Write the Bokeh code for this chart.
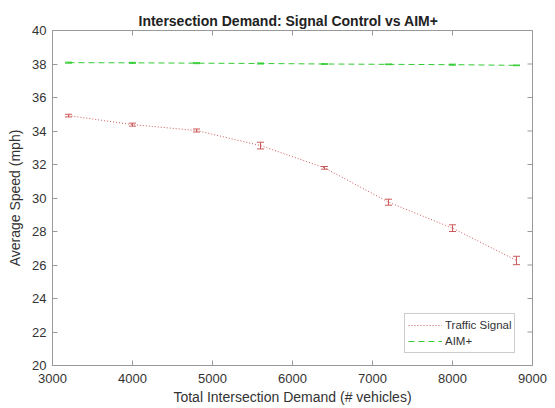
import math
from bokeh.plotting import figure
from bokeh.models import (ColumnDataSource, Whisker, TeeHead, Range1d, Legend,
                          LegendItem, FixedTicker)
from bokeh.embed import file_html
from bokeh.resources import INLINE

demand = [3200, 4000, 4800, 5600, 6400, 7200, 8000, 8800]
signal_speed = [34.92, 34.38, 34.03, 33.13, 31.80, 29.75, 28.20, 26.27]
signal_err = [0.08, 0.09, 0.09, 0.20, 0.08, 0.18, 0.20, 0.25]
aim_speed = [38.08, 38.07, 38.05, 38.03, 38.00, 37.98, 37.96, 37.92]
aim_err = [0.03, 0.03, 0.03, 0.03, 0.02, 0.02, 0.03, 0.02]
x_ticks = [3000, 4000, 5000, 6000, 7000, 8000, 9000]
y_ticks = [20, 22, 24, 26, 28, 30, 32, 34, 36, 38, 40]
x_lim = (3000, 9000)
y_lim = (20, 40)

RED = "#cc5a5a"
GREEN = "#33cc33"
AX = "#999999"
TXT = "#333333"
FONT = "Liberation Sans"

p = figure(width=555, height=408, output_backend="svg", toolbar_location=None,
           x_range=Range1d(*x_lim), y_range=Range1d(*y_lim),
           min_border_left=52, min_border_right=23, min_border_top=30, min_border_bottom=43,
           title="Intersection Demand: Signal Control vs AIM+")
p.title.text_font = FONT
p.title.text_font_size = "14px"
p.title.text_font_style = "bold"
p.title.text_color = "#222222"
p.title.align = "left"
p.title.offset = 86
p.title.standoff = 4
p.grid.visible = False
p.outline_line_color = AX
p.background_fill_color = "white"

def style_axis(ax, ticks):
    ax.ticker = FixedTicker(ticks=ticks)
    ax.axis_line_color = AX
    ax.major_tick_line_color = AX
    ax.major_tick_in = 5
    ax.major_tick_out = 0
    ax.minor_tick_line_color = None
    ax.major_label_text_font = FONT
    ax.major_label_text_font_size = "13px"
    ax.major_label_text_color = TXT
    ax.axis_label_text_font = FONT
    ax.axis_label_text_font_size = "14px"
    ax.axis_label_text_font_style = "normal"
    ax.axis_label_text_color = TXT

style_axis(p.xaxis[0], x_ticks)
style_axis(p.yaxis[0], y_ticks)
p.xaxis[0].axis_label = "Total Intersection Demand (# vehicles)"
p.xaxis[0].major_label_standoff = 8
p.xaxis[0].axis_label_standoff = 3
p.yaxis[0].axis_label = "Average Speed (mph)"
p.yaxis[0].major_label_standoff = 6
p.yaxis[0].axis_label_standoff = 6

# box ticks on top and right edges (half of each dash is clipped by the frame)
p.scatter(x=x_ticks, y=[y_lim[1]] * len(x_ticks), marker="dash", size=10, angle=math.pi / 2,
          line_color=AX, line_width=1)
p.scatter(x=[x_lim[1]] * len(y_ticks), y=y_ticks, marker="dash", size=10,
          line_color=AX, line_width=1)

src_sig = ColumnDataSource(dict(x=demand, y=signal_speed,
                                lo=[v - e for v, e in zip(signal_speed, signal_err)],
                                hi=[v + e for v, e in zip(signal_speed, signal_err)]))
src_aim = ColumnDataSource(dict(x=demand, y=aim_speed,
                                lo=[v - e for v, e in zip(aim_speed, aim_err)],
                                hi=[v + e for v, e in zip(aim_speed, aim_err)]))

r_sig = p.line("x", "y", source=src_sig, line_color=RED, line_width=1, line_dash="1 2")
r_aim = p.line("x", "y", source=src_aim, line_color=GREEN, line_width=1, line_dash="6 4")

for src, col in ((src_sig, RED), (src_aim, GREEN)):
    w = Whisker(source=src, base="x", lower="lo", upper="hi", line_color=col, line_width=1,
                upper_head=TeeHead(size=7, line_color=col, line_width=1),
                lower_head=TeeHead(size=7, line_color=col, line_width=1))
    p.add_layout(w)

legend = Legend(items=[LegendItem(label="Traffic Signal", renderers=[r_sig]),
                       LegendItem(label="AIM+", renderers=[r_aim])],
                location=(352, 12), orientation="vertical")
legend.label_text_font = FONT
legend.label_text_font_size = "11.5px"
legend.label_text_color = TXT
legend.glyph_width = 34
legend.glyph_height = 16
legend.label_height = 16
legend.label_standoff = 3
legend.spacing = 0
legend.padding = 3
legend.margin = 0
legend.border_line_color = AX
legend.background_fill_alpha = 1
p.add_layout(legend, "center")

open("out.html", "w").write(file_html(p, INLINE))
